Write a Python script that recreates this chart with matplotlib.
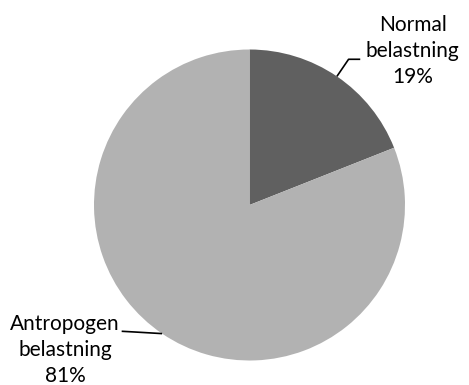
import numpy as np
import matplotlib.pyplot as plt

labels = ['Normal\nbelastning', 'Antropogen\nbelastning']
values = [19, 81]
colors = ['#606060', '#b2b2b2']

plt.rcParams['font.family'] = ['Lato', 'DejaVu Sans']

fig = plt.figure(figsize=(4.69, 3.85), dpi=100)
# pie area: centre at (249, 205) px, radius ~155 px
ax = fig.add_axes([94 / 469, 24.5 / 385, 311 / 469, 311 / 385])

wedges, _ = ax.pie(values, colors=colors, startangle=90, counterclock=False,
                   radius=1, wedgeprops=dict(linewidth=0))
ax.set_xlim(-1, 1)
ax.set_ylim(-1, 1)
ax.set_aspect('auto')
ax.axis('off')

pct = [v / sum(values) * 100 for v in values]

# leader lines start at the middle of each wedge
mids = [np.deg2rad((w.theta1 + w.theta2) / 2) for w in wedges]

# Normal belastning: up-right, then short horizontal
a = mids[0]
x0, y0 = np.cos(a), np.sin(a)
ax.plot([x0, x0 + 0.075, x0 + 0.15], [y0, y0 + 0.11, y0 + 0.11],
        color='black', lw=1.2, clip_on=False, solid_capstyle='butt')
ax.text(1.05, 0.99, '{}\n{:.0f}%'.format(labels[0], pct[0]),
        ha='center', va='center', fontsize=15, linespacing=1.38)

# Antropogen belastning: left, nearly horizontal
a = mids[1]
x1, y1 = np.cos(a), np.sin(a)
ax.plot([x1, x1 - 0.17, x1 - 0.26], [y1, y1 + 0.01, y1 + 0.015],
        color='black', lw=1.2, clip_on=False, solid_capstyle='butt')
ax.text(-1.187, -0.935, '{}\n{:.0f}%'.format(labels[1], pct[1]),
        ha='center', va='center', fontsize=15, linespacing=1.38)

fig.savefig('out.png', dpi=100)
